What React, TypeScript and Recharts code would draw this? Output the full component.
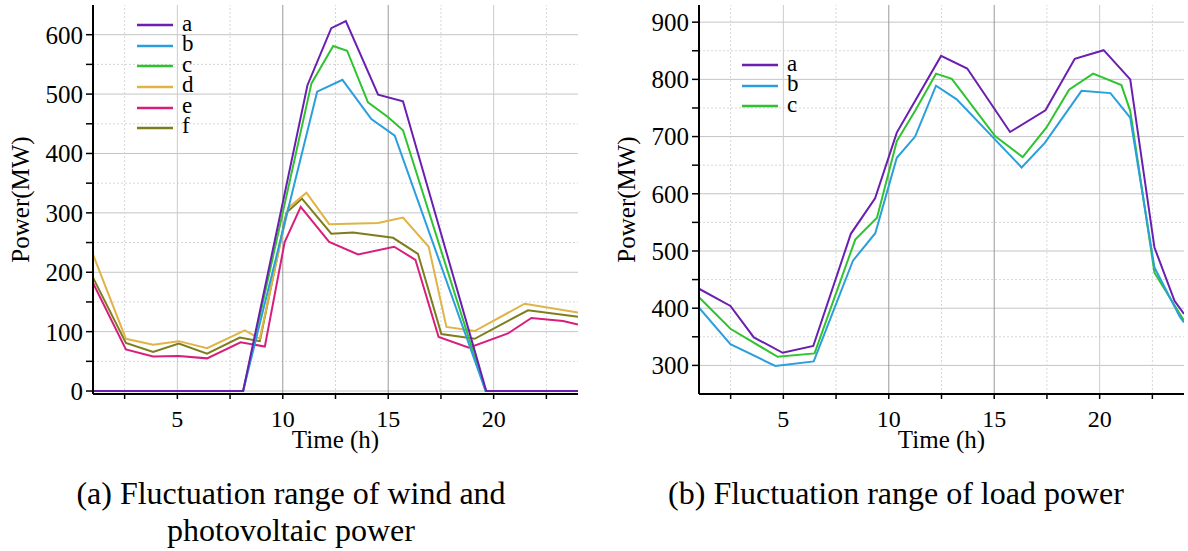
import React from "react";
import { LineChart, Line, XAxis, YAxis, ReferenceLine, Legend, Label } from "recharts";

const FONT = "'Liberation Serif', 'Times New Roman', serif";

// ---- (a) wind and photovoltaic power ----
const pvNames = ["a", "b", "c", "d", "e", "f"];
const pvColors = ["#6a1fb0", "#2b9fdc", "#2fc42f", "#e0b345", "#d81e7c", "#7d7d1e"];

const pvATime = [1, 8.12, 11.17, 12.3, 12.99, 14.52, 15.7, 19.65, 24];
const pvAPower = [0, 0, 515, 611, 623, 499, 488, 0, 0];
const pvBTime = [1, 8.12, 11.63, 12.83, 14.2, 15.31, 19.62, 24];
const pvBPower = [0, 0, 504, 524, 458, 430, 0, 0];
const pvCTime = [1, 8.12, 11.36, 12.39, 13.05, 14.04, 15.0, 15.7, 19.62, 24];
const pvCPower = [0, 0, 518, 581, 573, 486, 461, 439, 0, 0];
const pvDTime = [1, 2.56, 3.85, 5.07, 6.41, 8.2, 8.91, 10.25, 11.12, 12.2, 14.52, 15.7, 16.92, 17.76, 19.1, 21.47, 24];
const pvDPower = [230, 88, 78, 84, 72, 102, 88, 308, 334, 281, 283, 292, 243, 108, 101, 147, 132];
const pvETime = [1, 2.56, 3.85, 5.07, 6.41, 8.0, 9.15, 10.09, 10.85, 12.2, 13.57, 15.28, 16.29, 17.39, 18.83, 20.68, 21.79, 23.29, 24];
const pvEPower = [182, 70, 58, 59, 55, 82, 75, 251, 310, 251, 230, 243, 221, 91, 73, 97, 123, 118, 112];
const pvFTime = [1, 2.56, 3.85, 5.07, 6.41, 7.96, 8.91, 10.17, 10.91, 12.3, 13.33, 15.23, 16.41, 17.52, 19.1, 21.63, 24];
const pvFPower = [191, 81, 66, 80, 63, 90, 84, 300, 324, 265, 267, 258, 231, 96, 88, 136, 125];

const pvTimes = [pvATime, pvBTime, pvCTime, pvDTime, pvETime, pvFTime];
const pvPowers = [pvAPower, pvBPower, pvCPower, pvDPower, pvEPower, pvFPower];

// ---- (b) load power ----
const loadNames = ["a", "b", "c"];
const loadColors = ["#6a1fb0", "#2b9fdc", "#2fc42f"];

const loadATime = [1, 2.49, 3.6, 4.97, 6.42, 8.2, 9.35, 10.38, 12.48, 13.72, 15.75, 17.43, 18.82, 20.19, 21.45, 22.6, 23.55, 24];
const loadAPower = [434, 404, 349, 322, 334, 530, 592, 707, 841, 819, 708, 746, 836, 851, 800, 506, 413, 390];
const loadBTime = [1, 2.49, 4.62, 6.44, 8.3, 9.36, 10.38, 11.25, 12.24, 13.22, 16.3, 17.4, 19.14, 20.51, 21.45, 22.6, 23.8, 24];
const loadBPower = [401, 337, 299, 307, 483, 531, 663, 700, 789, 765, 646, 689, 780, 776, 733, 471, 385, 375];
const loadCTime = [1, 2.49, 4.73, 6.48, 8.41, 9.44, 10.38, 11.25, 12.24, 12.99, 15.04, 16.35, 17.48, 18.55, 19.69, 21.03, 21.45, 22.6, 24];
const loadCPower = [419, 364, 315, 321, 520, 558, 692, 745, 810, 801, 701, 664, 716, 782, 810, 790, 745, 462, 378];

const loadTimes = [loadATime, loadBTime, loadCTime];
const loadPowers = [loadAPower, loadBPower, loadCPower];

// ticks / grid
const xTicks = [2.5, 5, 7.5, 10, 12.5, 15, 17.5, 20, 22.5];
const xMinorGrid = [2.5, 7.5, 12.5, 17.5, 22.5];
const xLightGrid = [5, 20];
const xDarkGrid = [10, 15];

const pvYTicks = [0, 50, 100, 150, 200, 250, 300, 350, 400, 450, 500, 550, 600];
const pvYMajor = [0, 100, 200, 300, 400, 500, 600];
const pvYMinor = [50, 150, 250, 350, 450, 550];

const loadYTicks = [300, 350, 400, 450, 500, 550, 600, 650, 700, 750, 800, 850, 900];
const loadYMajor = [300, 400, 500, 600, 700, 800, 900];
const loadYMinor = [350, 450, 550, 650, 750, 850];

function buildSeries(names: string[], colors: string[], times: number[][], powers: number[][]) {
  return names.map((name, i) => ({
    name,
    color: colors[i],
    data: times[i].map((t, j) => ({ time: t, power: powers[i][j] })),
  }));
}

const pvSeries = buildSeries(pvNames, pvColors, pvTimes, pvPowers);
const loadSeries = buildSeries(loadNames, loadColors, loadTimes, loadPowers);

const renderLegend = (props: any) => {
  const payload = [...(props.payload || [])].sort((p: any, q: any) => String(p.value).localeCompare(String(q.value)));
  return (
    <div style={{ fontFamily: FONT, fontSize: 23, color: "#000" }}>
      {payload.map((p: any) => (
        <div key={p.value} style={{ display: "flex", alignItems: "center", height: 20.6 }}>
          <svg width={36} height={4} style={{ display: "block" }}>
            <line x1={0} y1={2} x2={36} y2={2} stroke={p.color} strokeWidth={2.5} />
          </svg>
          <span style={{ marginLeft: 9, lineHeight: "20.6px", marginTop: -3 }}>{p.value}</span>
        </div>
      ))}
    </div>
  );
};

type PanelProps = {
  series: { name: string; color: string; data: { time: number; power: number }[] }[];
  yDomain: [number, number];
  yTicks: number[];
  yMajor: number[];
  yMinor: number[];
  legendLeft: number;
  legendTop: number;
};

function Panel({ series, yDomain, yTicks, yMajor, yMinor, legendLeft, legendTop }: PanelProps) {
  // draw the first series last so it stays on top (as in the reference)
  const drawOrder = [...series].reverse();
  return (
    <LineChart width={590} height={466} margin={{ top: 5, right: 12, bottom: 0, left: 0 }}>
      {yMinor.map((v) => (
        <ReferenceLine key={"ym" + v} y={v} stroke="#d6d6d6" strokeDasharray="2 2" />
      ))}
      {yMajor.map((v) => (
        <ReferenceLine key={"yM" + v} y={v} stroke="#c4c4c4" />
      ))}
      {xMinorGrid.map((v) => (
        <ReferenceLine key={"xm" + v} x={v} stroke="#d6d6d6" strokeDasharray="2 2" />
      ))}
      {xLightGrid.map((v) => (
        <ReferenceLine key={"xl" + v} x={v} stroke="#cccccc" />
      ))}
      {xDarkGrid.map((v) => (
        <ReferenceLine key={"xd" + v} x={v} stroke="#9a9a9a" />
      ))}
      <XAxis
        type="number"
        dataKey="time"
        domain={[1, 24]}
        allowDataOverflow
        ticks={xTicks}
        interval={0}
        tickFormatter={(v: number) => (Number.isInteger(v) ? String(v) : "")}
        axisLine={{ stroke: "#000", strokeWidth: 2 }}
        tickLine={{ stroke: "#000", strokeWidth: 1.5 }}
        tickSize={5}
        tickMargin={11}
        height={72}
        tick={{ fill: "#000", fontSize: 24, fontFamily: FONT }}
      >
        <Label
          value="Time (h)"
          position="insideBottom"
          offset={18}
          style={{ fill: "#000", fontSize: 25, fontFamily: FONT }}
        />
      </XAxis>
      <YAxis
        type="number"
        domain={yDomain}
        allowDataOverflow
        ticks={yTicks}
        interval={0}
        tickFormatter={(v: number) => (v % 100 === 0 ? String(v) : "")}
        axisLine={{ stroke: "#000", strokeWidth: 2 }}
        tickLine={{ stroke: "#000", strokeWidth: 1.5 }}
        tickSize={7}
        tickMargin={3}
        width={93}
        tick={{ fill: "#000", fontSize: 25, fontFamily: FONT }}
      >
        <Label
          value="Power(MW)"
          angle={-90}
          position="insideLeft"
          offset={20}
          textAnchor="middle"
          style={{ fill: "#000", fontSize: 25, fontFamily: FONT, textAnchor: "middle" }}
        />
      </YAxis>
      <Legend
        layout="vertical"
        align="center"
        verticalAlign="middle"
        content={renderLegend}
        wrapperStyle={{ left: legendLeft, top: legendTop, width: "auto" }}
      />
      {drawOrder.map((s) => (
        <Line
          key={s.name}
          data={s.data}
          dataKey="power"
          name={s.name}
          type="linear"
          stroke={s.color}
          strokeWidth={2}
          dot={false}
          activeDot={false}
          isAnimationActive={false}
        />
      ))}
    </LineChart>
  );
}

const captionStyle: React.CSSProperties = {
  position: "absolute",
  width: 600,
  textAlign: "center",
  fontFamily: FONT,
  fontSize: 32,
  lineHeight: "37px",
  color: "#000",
};

export default function App() {
  return (
    <div style={{ position: "absolute", left: 0, top: 0, width: 1188, height: 551, background: "#fff", overflow: "hidden" }}>
      <div style={{ position: "absolute", left: 0, top: 0 }}>
        <Panel
          series={pvSeries}
          yDomain={[-5, 650]}
          yTicks={pvYTicks}
          yMajor={pvYMajor}
          yMinor={pvYMinor}
          legendLeft={137}
          legendTop={15}
        />
      </div>
      <div style={{ position: "absolute", left: 606, top: 0 }}>
        <Panel
          series={loadSeries}
          yDomain={[250, 930]}
          yTicks={loadYTicks}
          yMajor={loadYMajor}
          yMinor={loadYMinor}
          legendLeft={136}
          legendTop={55}
        />
      </div>
      <div style={{ ...captionStyle, left: 291 - 300, top: 475 }}>
        (a) Fluctuation range of wind and
        <br />
        photovoltaic power
      </div>
      <div style={{ ...captionStyle, left: 896 - 300, top: 475 }}>(b) Fluctuation range of load power</div>
    </div>
  );
}
